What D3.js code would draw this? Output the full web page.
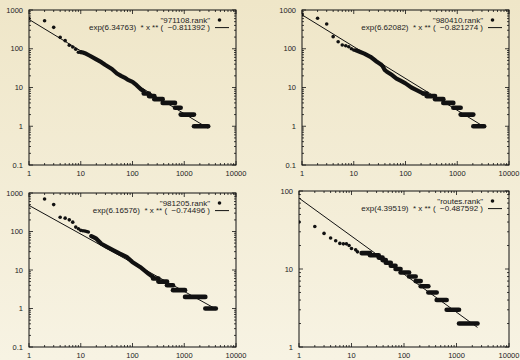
<!DOCTYPE html>
<html><head><meta charset="utf-8">
<script src="https://cdn.jsdelivr.net/npm/d3@7"></script>
<style>html,body{margin:0;padding:0;background:#f3ecd5;}svg{display:block;}</style>
</head><body>
<svg id="c" width="520" height="360"></svg>
<script>
// ---------- data ----------
const xTicks = [1, 10, 100, 1000, 10000];
const yTicksWide = [0.1, 1, 10, 100, 1000];
const yTicksNarrow = [1, 10, 100];

const p1Label = '"971108.rank"';
const p1Fit = [6.34763, -0.811392];
const p1FitText = "exp(6.34763)  * x ** (  \u22120.811392 )";
const p1Points = [[1,600],[2,530],[3,357],[4,197],[5,162],[6,123],[7,111],[8,97],[9,81]];
const p1Band = [[10,82],[11,80],[12,77],[15,66],[20,53],[25,45],[30,38],[40,30],[50,23],[60,20],[70,18],[80,16],[100,14],[120,11.5],[145,9],[165,8]];
const p1Steps = [[165,208,7],[208,264,6],[264,383,5],[383,663,4],[663,853,3],[853,1543,2],[1543,2900,1]];

const p2Label = '"980410.rank"';
const p2Fit = [6.62082, -0.821274];
const p2FitText = "exp(6.62082)  * x ** (  \u22120.821274 )";
const p2Points = [[1,760],[2,611],[3,435],[4,205],[5,152],[6,125],[7,120],[8,113],[9,100],[10,93]];
const p2Band = [[11,91],[13,84],[16,75],[21,62],[25,52],[28,46],[33,40],[36,36],[40,28],[43,26],[55,21],[67,17],[80,15],[100,12.8],[130,10],[164,8.6],[200,7.5],[220,7]];
const p2Steps = [[220,256,7],[256,372,6],[372,538,5],[538,840,4],[840,1164,3],[1164,2045,2],[2045,3311,1]];

const p3Label = '"981205.rank"';
const p3Fit = [6.16576, -0.74496];
const p3FitText = "exp(6.16576)  * x ** (  \u22120.74496 )";
const p3Points = [[2,700],[3,500],[4,235],[5,222],[6,201],[7,175],[8,130],[9,118],[10,107],[11,105],[12,103],[13,100],[14,97]];
const p3Band = [[16,76],[18,70],[20,65],[25,48],[32,40],[43,32.5],[57,26.7],[77,21.9],[99,16.2],[140,12],[202,8.1],[250,6.5]];
const p3Steps = [[250,316,6],[316,464,5],[464,606,4],[606,1035,3],[1035,2555,2],[2555,4077,1]];

const p4Label = '"routes.rank"';
const p4Fit = [4.39519, -0.487592];
const p4FitText = "exp(4.39519)  * x ** (  \u22120.487592 )";
const p4Points = [[1,40],[2,35],[3,28.6],[4,25],[5,23],[6,21.3],[7,21],[8,21],[9,20],[10,18.3],[12,17.6],[13,16.6]];
const p4Band = [];
const p4Steps = [[15.6,22.5,16],[22.5,33,15],[33,39,14],[39,45,13],[45,56,12],[56,69,11],[69,86,10],[86,125,9],[125,167,8],[167,208,7],[208,291,6],[291,419,5],[419,650,4],[650,1117,3],[1117,2512,2]];

// ---------- layout ----------
const svg = d3.select("#c");
const defs = svg.append("defs");
const grad = defs.append("linearGradient").attr("id","bg").attr("x1",0).attr("y1",0).attr("x2",0).attr("y2",1);
grad.append("stop").attr("offset","0%").attr("stop-color","#efe6c8");
grad.append("stop").attr("offset","100%").attr("stop-color","#f7f3e3");
svg.append("rect").attr("width",520).attr("height",360).attr("fill","url(#bg)");

const panels = [
  {box:[29,236,10,165], yDom:[0.1,1000], yTicks:yTicksWide, label:p1Label, fit:p1Fit, fitText:p1FitText, points:p1Points, band:p1Band, steps:p1Steps},
  {box:[302,509,10,165], yDom:[0.1,1000], yTicks:yTicksWide, label:p2Label, fit:p2Fit, fitText:p2FitText, points:p2Points, band:p2Band, steps:p2Steps},
  {box:[29,236,193,347], yDom:[0.1,1000], yTicks:yTicksWide, label:p3Label, fit:p3Fit, fitText:p3FitText, points:p3Points, band:p3Band, steps:p3Steps},
  {box:[299,509,191,347], yDom:[1,100], yTicks:yTicksNarrow, label:p4Label, fit:p4Fit, fitText:p4FitText, points:p4Points, band:p4Band, steps:p4Steps}
];

const ink = "#111";
const font = "'Liberation Sans', Arial, sans-serif";

function minorTicks(dom){
  const out=[];
  const lo=Math.round(Math.log10(dom[0])), hi=Math.round(Math.log10(dom[1]));
  for(let k=lo;k<hi;k++) for(let m=2;m<=9;m++) out.push(m*Math.pow(10,k));
  return out;
}

panels.forEach(p=>{
  const [L,R,T,B]=p.box;
  const x=d3.scaleLog().domain([1,10000]).range([L,R]);
  const y=d3.scaleLog().domain(p.yDom).range([B,T]);
  const g=svg.append("g");
  const clipId="clip"+L+"_"+T;
  defs.append("clipPath").attr("id",clipId).append("rect").attr("x",L).attr("y",T).attr("width",R-L).attr("height",B-T);

  // ticks (inward, mirrored)
  const tk=g.append("g").attr("stroke",ink).attr("stroke-width",0.8);
  const xmin=minorTicks([1,10000]), ymin=minorTicks(p.yDom);
  xTicks.forEach(v=>{const xx=x(v);
    tk.append("line").attr("x1",xx).attr("x2",xx).attr("y1",B).attr("y2",B-4);
    tk.append("line").attr("x1",xx).attr("x2",xx).attr("y1",T).attr("y2",T+4);});
  xmin.forEach(v=>{const xx=x(v);
    tk.append("line").attr("x1",xx).attr("x2",xx).attr("y1",B).attr("y2",B-2);
    tk.append("line").attr("x1",xx).attr("x2",xx).attr("y1",T).attr("y2",T+2);});
  p.yTicks.forEach(v=>{const yy=y(v);
    tk.append("line").attr("x1",L).attr("x2",L+4).attr("y1",yy).attr("y2",yy);
    tk.append("line").attr("x1",R).attr("x2",R-4).attr("y1",yy).attr("y2",yy);});
  ymin.forEach(v=>{const yy=y(v);
    tk.append("line").attr("x1",L).attr("x2",L+2).attr("y1",yy).attr("y2",yy);
    tk.append("line").attr("x1",R).attr("x2",R-2).attr("y1",yy).attr("y2",yy);});

  // tick labels
  const lab=g.append("g").attr("font-family",font).attr("font-size","7.5px").attr("fill","#222");
  xTicks.forEach(v=>lab.append("text").attr("x",x(v)).attr("y",B+10.5).attr("text-anchor","middle").text(d3.format("d")(v)));
  p.yTicks.forEach(v=>lab.append("text").attr("x",L-6).attr("y",y(v)).attr("dy","0.35em").attr("text-anchor","end").text(v<1?String(v):d3.format("d")(v)));

  const plot=g.append("g").attr("clip-path","url(#"+clipId+")");
  // fit line
  const xmax=d3.max(p.steps,d=>d[1]);
  const f=v=>Math.exp(p.fit[0])*Math.pow(v,p.fit[1]);
  plot.append("path").attr("d",d3.line().x(d=>x(d)).y(d=>y(f(d)))([1,xmax]))
    .attr("stroke",ink).attr("stroke-width",1).attr("fill","none");
  // band
  if(p.band.length)
    plot.append("path").attr("d",d3.line().x(d=>x(d[0])).y(d=>y(d[1]))(p.band))
      .attr("stroke",ink).attr("stroke-width",4.2).attr("stroke-linecap","round").attr("stroke-linejoin","round").attr("fill","none");
  // steps
  plot.selectAll(null).data(p.steps).enter().append("line")
    .attr("x1",d=>x(d[0])).attr("x2",d=>x(d[1])).attr("y1",d=>y(d[2])).attr("y2",d=>y(d[2]))
    .attr("stroke",ink).attr("stroke-width",4.6).attr("stroke-linecap","round");
  // points
  plot.selectAll(null).data(p.points).enter().append("circle")
    .attr("cx",d=>x(d[0])).attr("cy",d=>y(d[1])).attr("r",1.8).attr("fill",ink);

  // border
  g.append("rect").attr("x",L).attr("y",T).attr("width",R-L).attr("height",B-T)
    .attr("fill","none").attr("stroke",ink).attr("stroke-width",1);

  // legend
  const lg=g.append("g").attr("font-family",font).attr("font-size","8px").attr("fill","#222");
  lg.append("text").attr("x",R-26).attr("y",T+10).attr("dy","0.35em").attr("text-anchor","end").text(p.label);
  lg.append("text").attr("x",R-26).attr("y",T+17.6).attr("dy","0.35em").attr("text-anchor","end").attr("xml:space","preserve").style("white-space","pre").text(p.fitText);
  g.append("circle").attr("cx",R-16.5).attr("cy",T+10).attr("r",1.8).attr("fill",ink);
  g.append("line").attr("x1",R-21).attr("x2",R-7).attr("y1",T+17.6).attr("y2",T+17.6).attr("stroke",ink).attr("stroke-width",1);
});
</script>
</body></html>
